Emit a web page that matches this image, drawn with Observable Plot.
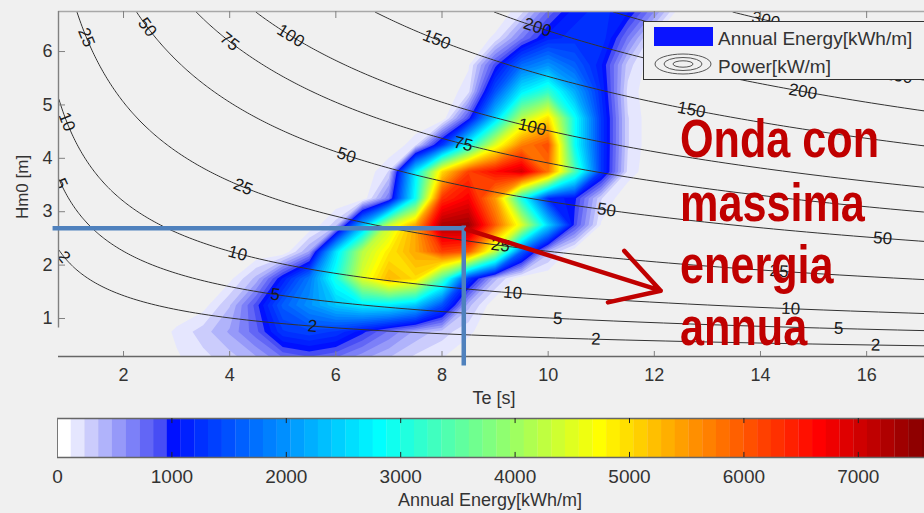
<!DOCTYPE html>
<html><head><meta charset="utf-8">
<script src="https://cdn.jsdelivr.net/npm/d3@7"></script>
<script src="https://cdn.jsdelivr.net/npm/@observablehq/plot@0.6"></script>
<style>
html,body{margin:0;padding:0;background:#f0f0f0;overflow:hidden;}
#chart{position:relative;width:924px;height:513px;overflow:hidden;background:#f0f0f0;}
#chart svg{display:block;}
#overlay{position:absolute;left:0;top:0;pointer-events:none;}
</style></head><body><div id="chart"></div>
<script>
// ---------------- DATA ----------------
// Energy grid: columns = Te (s), rows = Hm0 (m), top row first
const teGrid = [2.5,3,3.5,4,4.5,5,5.5,6,6.5,7,7.5,8,8.5,9,9.5,10,10.5,11,11.5,12,12.5,13];
const hm0Grid = [6.75,6.25,5.75,5.25,4.75,4.25,3.75,3.25,2.75,2.25,1.75,1.25,0.75,0.25];
const energyH675 = [0,0,0,0,0,0,0,0,0,0,0,0,0,0,200,750,1150,1250,1100,600,0,0];
const energyH625 = [0,0,0,0,0,0,0,0,0,0,0,0,0,150,700,1150,1250,1300,700,100,0,0];
const energyH575 = [0,0,0,0,0,0,0,0,0,0,0,0,100,900,1700,2000,1600,1100,300,0,0,0];
const energyH525 = [0,0,0,0,0,0,0,0,0,0,0,0,200,1500,2700,3200,2200,1200,200,0,0,0];
const energyH475 = [0,0,0,0,0,0,0,0,0,0,0,0,900,2500,4200,5000,2900,1300,250,0,0,0];
const energyH425 = [0,0,0,0,0,0,0,0,0,0,200,1300,2900,4500,5700,6100,2900,1300,250,0,0,0];
const energyH375 = [0,0,0,0,0,0,0,0,0,250,2700,5000,6200,6600,7000,5800,3400,1300,200,0,0,0];
const energyH325 = [0,0,0,0,0,0,0,0,0,700,2900,6300,6700,5500,3000,1200,1000,250,0,0,0,0];
const energyH275 = [0,0,0,0,0,0,0,300,2200,4300,5400,7300,7400,6000,4500,2500,900,100,0,0,0,0];
const energyH225 = [0,0,0,0,0,0,500,2600,4200,4900,5400,6200,6000,4200,1600,400,0,0,0,0,0,0];
const energyH175 = [0,0,0,80,400,1100,1800,3000,4500,5300,5000,3400,1300,400,0,0,0,0,0,0,0,0];
const energyH125 = [0,0,60,350,900,1600,2000,2400,2700,2700,2400,1500,400,0,0,0,0,0,0,0,0,0];
const energyH075 = [0,150,300,500,800,1300,1400,1300,1000,700,450,300,150,0,0,0,0,0,0,0,0,0];
const energyH025 = [0,100,200,300,450,700,800,700,500,350,200,120,0,0,0,0,0,0,0,0,0,0];
const energyRows = [energyH675,energyH625,energyH575,energyH525,energyH475,energyH425,energyH375,
  energyH325,energyH275,energyH225,energyH175,energyH125,energyH075,energyH025];

const energyStep = 120;              // colour band width (64 bands)
const energyBands = 64;
const energyTicks = [0,1000,2000,3000,4000,5000,6000,7000];

// Power contours [kW/m]: P = 0.49 * Hm0^2 * Te
const powerCoef = 0.49;
const powerLevels = [2,5,10,25,50,75,100,150,200,250,300];
const labelLevels = [2,2,2,2, 5,5,5,5, 10,10,10,10, 25,25,25,25, 50,50,50,50, 75,75, 100,100, 150,150, 200,200, 250, 300];
const labelTe     = [0.88,5.56,10.9,16.17, 0.82,4.86,10.18,15.47, 0.93,4.15,9.33,14.57, 1.3,4.25,9.1,14.35, 2.45,6.2,11.1,16.3, 4.0,8.4, 5.15,9.7, 7.9,12.7, 9.8,14.8, 16.6, 14.1];

const teTicks = [2,4,6,8,10,12,14,16];
const hm0Ticks = [1,2,3,4,5,6];

// annotation: wave with maximum annual energy
const peakTe = 8.41, peakHm0 = 2.69;
const arrowEndTe = 12.12, arrowEndHm0 = 1.52;
const annotationLines = ["Onda con","massima","energia","annua"];

// ---------------- LAYOUT ----------------
const W = 924, mainH = 405, barH = 108;
const xDomain = [0.775, 17.09];
const yDomain = [0.288, 6.75];
const frameLeft = 58, frameTop = 11, frameBottom = 356;
const kx = (W - frameLeft) / (xDomain[1] - xDomain[0]);
const ky = (frameBottom - frameTop) / (yDomain[1] - yDomain[0]);
const font = "'Liberation Sans', Arial, sans-serif";
const bg = "#f0f0f0";

// colormap: MATLAB jet(64) with first 8 entries replaced by white→blue
function jet(i) {
  const x = (i + 1) / 64, c = v => Math.max(0, Math.min(1, v));
  return [c(1.5 - Math.abs(4*x - 3)), c(1.5 - Math.abs(4*x - 2)), c(1.5 - Math.abs(4*x - 1))];
}
const palette = d3.range(energyBands).map(i => {
  let rgb;
  if (i < 8) { const t = i / 7; rgb = [1 - t*0.72, 1 - t*0.70, 1 - t*0.04]; }
  else rgb = jet(i);
  return d3.rgb(rgb[0]*255, rgb[1]*255, rgb[2]*255).formatHex();
});
const thresholds = d3.range(1, energyBands).map(k => k * energyStep);

const energyFlat = energyRows.flat();
const dTe = teGrid[1] - teGrid[0], dH = hm0Grid[0] - hm0Grid[1];

const labelData = labelLevels.map((p, i) => {
  const te = labelTe[i], h = Math.sqrt(p / (powerCoef * te));
  const ang = Math.atan((ky / kx) * h / (2 * te)) * 180 / Math.PI;
  return {p, te, h, ang};
});

const main = Plot.plot({
  width: W, height: mainH,
  marginLeft: frameLeft, marginRight: 0, marginTop: frameTop, marginBottom: mainH - frameBottom,
  style: {background: "transparent", fontFamily: font, fontSize: "18px", color: "#333", overflow: "visible"},
  x: {domain: xDomain, axis: null},
  y: {domain: yDomain, axis: null},
  color: {type: "threshold", domain: thresholds, range: palette},
  marks: [
    Plot.contour(energyFlat, {
      width: teGrid.length, height: hm0Grid.length,
      x1: teGrid[0] - dTe/2, x2: teGrid[teGrid.length-1] + dTe/2,
      y1: hm0Grid[0] + dH/2, y2: hm0Grid[hm0Grid.length-1] - dH/2,
      fill: Plot.identity, thresholds, clip: true
    }),
    Plot.contour({
      value: (x, y) => powerCoef * y * y * x,
      x1: xDomain[0], x2: xDomain[1], y1: yDomain[0], y2: yDomain[1],
      thresholds: powerLevels, stroke: "#333", strokeWidth: 1, fill: "none",
      pixelSize: 1, clip: true, ariaLabel: "power-contours"
    }),
    Plot.text(labelData, {x: "te", y: "h", text: d => String(d.p), rotate: "ang",
      fontSize: 17, fill: "#1a1a1a", clip: true, ariaLabel: "power-labels"}),
    // axes lines and inward ticks
    Plot.ruleY([yDomain[1]], {stroke: "#a8a8a8", strokeWidth: 1.6}),
    Plot.ruleY([yDomain[0]], {stroke: "#666", strokeWidth: 1.5}),
    Plot.ruleX([xDomain[0]], {y1: 0.82, y2: yDomain[1], stroke: "#808080", strokeWidth: 1.4}),
    Plot.ruleY(hm0Ticks, {x1: xDomain[0], x2: xDomain[0] + 7/kx, stroke: "#808080"}),
    Plot.ruleX(teTicks, {y1: yDomain[1], y2: yDomain[1] - 7/ky, stroke: "#808080"}),
    Plot.ruleX(teTicks, {y1: yDomain[0], y2: yDomain[0] + 5/ky, stroke: "#808080"}),
    Plot.axisX(teTicks, {tickSize: 0, tickPadding: 12, fontSize: 18, fill: "#333", tickFormat: d => String(d), label: null}),
    Plot.axisY(hm0Ticks, {tickSize: 0, tickPadding: 6, fontSize: 18, fill: "#333", tickFormat: d => String(d), label: null}),
    // annotation lines
    Plot.ruleY([peakHm0], {x1: xDomain[0] - 0.06, x2: peakTe, stroke: "#4f81bd", strokeWidth: 4.5, strokeLinecap: "square"}),
    Plot.ruleX([peakTe], {y1: 0.15, y2: peakHm0, stroke: "#4f81bd", strokeWidth: 4.5, strokeLinecap: "square"}),
    Plot.arrow([{a: peakTe + 0.05, b: peakHm0 - 0.02, c: arrowEndTe, d: arrowEndHm0}],
      {x1: "a", y1: "b", x2: "c", y2: "d", stroke: "#c00000", strokeWidth: 4.5, headLength: 18, headAngle: 60})
  ]
});

// break contour lines under their labels
(function maskLabels(svg) {
  const ns = "http://www.w3.org/2000/svg";
  const lab = svg.querySelector('g[aria-label="power-labels"]');
  const con = svg.querySelector('g[aria-label="power-contours"]');
  if (!lab || !con) return;
  const defs = document.createElementNS(ns, "defs");
  const mask = document.createElementNS(ns, "mask");
  mask.setAttribute("id", "labmask");
  mask.setAttribute("maskUnits", "userSpaceOnUse");
  mask.setAttribute("x", 0); mask.setAttribute("y", 0);
  mask.setAttribute("width", W); mask.setAttribute("height", mainH);
  const r = document.createElementNS(ns, "rect");
  r.setAttribute("width", W); r.setAttribute("height", mainH); r.setAttribute("fill", "#fff");
  const clone = lab.cloneNode(true);
  clone.removeAttribute("aria-label");
  clone.setAttribute("style", "fill:#000;stroke:#000;stroke-width:5px;");
  mask.appendChild(r); mask.appendChild(clone); defs.appendChild(mask);
  svg.insertBefore(defs, svg.firstChild);
  con.setAttribute("mask", "url(#labmask)");
})(main);

// colour bar
const cells = palette.map((c, i) => ({lo: i * energyStep, hi: (i + 1) * energyStep, color: c}));
const barLeft = 57, pxPer1000 = 114.4;
const bar = Plot.plot({
  width: W, height: barH, marginLeft: barLeft, marginRight: 0, marginTop: 13, marginBottom: 56,
  style: {background: "transparent", fontFamily: font, fontSize: "19px", color: "#333"},
  x: {domain: [0, (W - barLeft) / pxPer1000 * 1000], axis: null},
  y: {domain: [0, 1], axis: null},
  color: {type: "identity"},
  marks: [
    Plot.rect(cells, {x1: "lo", x2: d => d.hi + 2, y1: 0, y2: 1, fill: "color", clip: true}),
    Plot.ruleY([0, 1], {stroke: "#666", strokeWidth: 1.3}),
    Plot.ruleX([0], {y1: 0, y2: 1, stroke: "#777"}),
    Plot.ruleX(energyTicks.slice(1), {y1: 0, y2: 0.13, stroke: "#222"}),
    Plot.ruleX(energyTicks.slice(1), {y1: 0.87, y2: 1, stroke: "#222"}),
    Plot.axisX(energyTicks, {tickSize: 0, tickPadding: 12, fontSize: 19, fill: "#333", tickFormat: d => String(d), label: null})
  ]
});

const chart = document.getElementById("chart");
chart.appendChild(main);
chart.appendChild(bar);

// overlay: axis titles, legend, annotation text
const ov = d3.select(chart).append("svg").attr("id", "overlay").attr("width", W).attr("height", 513)
  .style("font-family", font);
ov.append("text").attr("x", 494).attr("y", 398).attr("dy", "0.35em").attr("text-anchor", "middle")
  .attr("font-size", 18).attr("fill", "#333").text("Te [s]");
ov.append("text").attr("transform", "translate(22,187) rotate(-90)").attr("dy", "0.35em").attr("text-anchor", "middle")
  .attr("font-size", 17).attr("fill", "#333").text("Hm0 [m]");
ov.append("text").attr("x", 490).attr("y", 500).attr("dy", "0.35em").attr("text-anchor", "middle")
  .attr("font-size", 18).attr("fill", "#333").text("Annual Energy[kWh/m]");

// legend
const lg = ov.append("g").attr("transform", "translate(643,21)");
lg.append("rect").attr("x", 0.5).attr("y", 0.5).attr("width", 300).attr("height", 58)
  .attr("fill", bg).attr("stroke", "#333").attr("stroke-width", 1);
lg.append("rect").attr("x", 11).attr("y", 6).attr("width", 59).attr("height", 19).attr("fill", "#0a14ff");
lg.append("text").attr("x", 75).attr("y", 17).attr("dy", "0.35em").attr("font-size", 19).attr("fill", "#333")
  .text("Annual Energy[kWh/m]");
[[28, 10], [19, 6.5], [10, 3.2]].forEach(([rx, ry]) =>
  lg.append("ellipse").attr("cx", 40).attr("cy", 43).attr("rx", rx).attr("ry", ry)
    .attr("fill", "none").attr("stroke", "#555").attr("stroke-width", 1));
lg.append("text").attr("x", 75).attr("y", 45).attr("dy", "0.35em").attr("font-size", 19).attr("fill", "#333")
  .text("Power[kW/m]");

// red annotation text (condensed bold)
const redBaselines = [157, 221, 283, 345];
annotationLines.forEach((t, i) => {
  ov.append("text").attr("transform", `translate(680,${redBaselines[i]}) scale(0.8,1)`)
    .attr("font-size", 54).attr("font-weight", "bold").attr("fill", "#c00000")
    .text(t);
});
</script></body></html>
